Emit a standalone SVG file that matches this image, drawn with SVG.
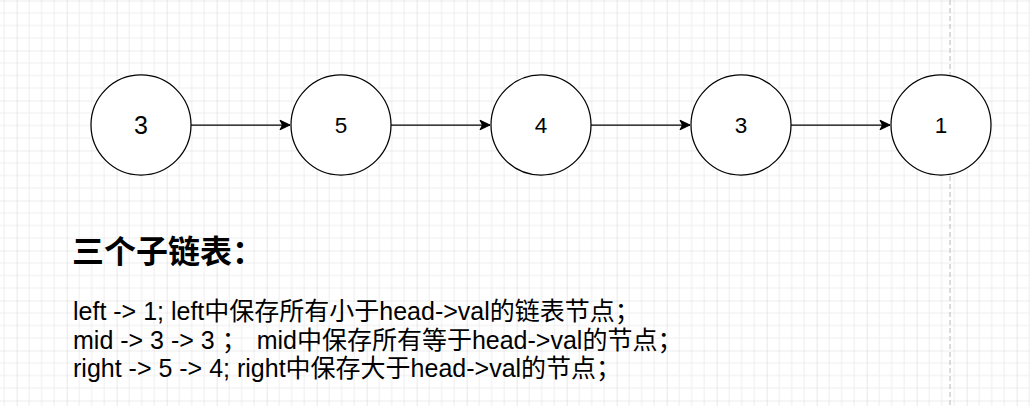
<svg xmlns="http://www.w3.org/2000/svg" width="1030" height="406" viewBox="0 0 1030 406">
  <defs>
    <pattern id="grid" patternUnits="userSpaceOnUse" x="16.67" y="0.5" width="50" height="50">
      <rect width="50" height="50" fill="#ffffff"/>
      <path d="M12.5 0V50M25 0V50M37.5 0V50M0 12.5H50M0 25H50M0 37.5H50" stroke="#eeeeee" stroke-width="1" fill="none"/>
      <path d="M0 0V50M0 0H50" stroke="#dadada" stroke-width="1.2" fill="none"/>
    </pattern>
    <marker id="arrow" markerUnits="userSpaceOnUse" markerWidth="12" markerHeight="12" viewBox="0 0 12 12" refX="11" refY="6" orient="auto">
      <path d="M1 1.2 L11 6 L1 10.8 L3.5 6 Z" fill="#000000" stroke="#000000" stroke-width="1"/>
    </marker>
    <style>
      .node circle { fill: #ffffff; stroke: #000000; stroke-width: 1.25; }
      .num { font-family: "Liberation Sans", Arial, sans-serif; font-size: 22.5px; fill: #000000; text-anchor: middle; }
      .big { font-size: 25px; }
      .edge { stroke: #000000; stroke-width: 1.25; fill: none; marker-end: url(#arrow); }
      .title { font-family: "Liberation Sans", "Noto Sans CJK SC", sans-serif; font-size: 32px; font-weight: bold; fill: #000000; }
      .body { font-family: "Liberation Sans", "Noto Sans CJK SC", sans-serif; font-size: 25px; fill: #000000; }
    </style>
  </defs>

  <rect x="0" y="0" width="1030" height="406" fill="url(#grid)"/>
  <line x1="950" y1="0" x2="950" y2="406" stroke="#c8c8c8" stroke-width="1.3" stroke-dasharray="5 3"/>

  <g id="connectors">
    <line class="edge" x1="191" y1="125" x2="290" y2="125"/>
    <line class="edge" x1="391" y1="125" x2="490" y2="125"/>
    <line class="edge" x1="591" y1="125" x2="690" y2="125"/>
    <line class="edge" x1="791" y1="125" x2="890" y2="125"/>
  </g>

  <g id="node1" class="node">
    <circle cx="141" cy="125" r="50"/>
    <text class="num big" x="141" y="134">3</text>
  </g>
  <g id="node2" class="node">
    <circle cx="341" cy="125" r="50"/>
    <text class="num" x="341" y="133">5</text>
  </g>
  <g id="node3" class="node">
    <circle cx="541" cy="125" r="50"/>
    <text class="num" x="541" y="133">4</text>
  </g>
  <g id="node4" class="node">
    <circle cx="741" cy="125" r="50"/>
    <text class="num" x="741" y="133">3</text>
  </g>
  <g id="node5" class="node">
    <circle cx="941" cy="125" r="50"/>
    <text class="num" x="941" y="133">1</text>
  </g>

  <g id="notes">
    <text class="title" x="72" y="263">三个子链表：</text>
    <text class="body" x="73" y="320" xml:space="preserve">left -&gt; 1; left中保存所有小于head-&gt;val的链表节点；</text>
    <text class="body" x="73" y="348.5" xml:space="preserve">mid -&gt; 3 -&gt; 3 ； <tspan dx="3">mid中保存所有等于head-&gt;val的节点；</tspan></text>
    <text class="body" x="73" y="377" xml:space="preserve">right -&gt; 5 -&gt; 4; right中保存大于head-&gt;val的节点；</text>
  </g>
</svg>
